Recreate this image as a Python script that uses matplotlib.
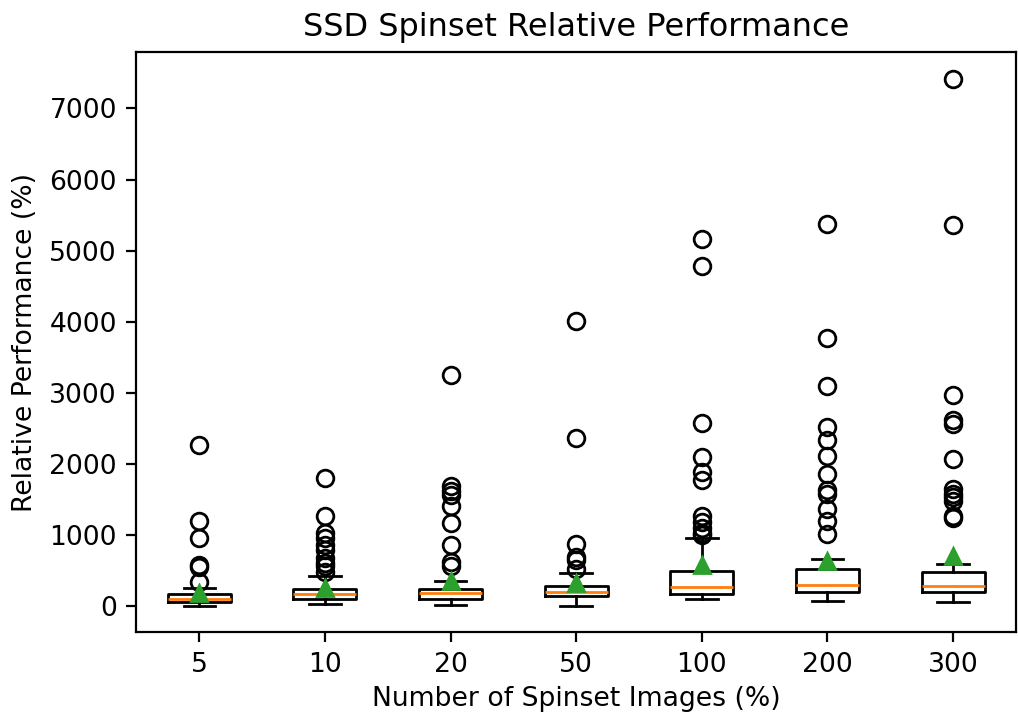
import matplotlib
matplotlib.use("Agg")
import matplotlib.pyplot as plt

# box statistics
labels  = ["5", "10", "20", "50", "100", "200", "300"]
q1      = [60, 98, 98, 141, 169, 192, 202]
med     = [103, 169, 178, 202, 272, 295, 281]
q3      = [169, 239, 239, 286, 497, 520, 474]
whislo  = [4, 28, 14, 0, 98, 70, 52]
whishi  = [249, 422, 352, 459, 961, 661, 586]
means   = [175, 250, 350, 315, 575, 630, 703]
fliers  = [
    [338, 540, 580, 950, 1190, 2260],
    [470, 560, 610, 680, 780, 860, 950, 1030, 1260, 1800],
    [560, 620, 850, 1170, 1400, 1560, 1620, 1680, 3250],
    [520, 640, 690, 870, 2360, 4010],
    [1000, 1030, 1090, 1180, 1260, 1770, 1890, 2090, 2570, 4780, 5160],
    [1010, 1200, 1360, 1580, 1630, 1860, 2110, 2330, 2520, 3090, 3770, 5370],
    [1230, 1270, 1470, 1530, 1580, 1650, 2070, 2560, 2620, 2970, 5360, 7420],
]

plt.rcParams["font.size"] = 9.6
plt.rcParams["axes.titlesize"] = 11.5

stats = []
for i, lab in enumerate(labels):
    stats.append(dict(label=lab, q1=q1[i], med=med[i], q3=q3[i],
                      whislo=whislo[i], whishi=whishi[i],
                      mean=means[i], fliers=fliers[i]))

fig = plt.figure(figsize=(5.09, 3.58), dpi=200)
ax = fig.add_axes([0.134, 0.117, 0.864, 0.810])
ax.bxp(stats, showmeans=True)
ax.set_title("SSD Spinset Relative Performance")
ax.set_xlabel("Number of Spinset Images (%)", labelpad=3)
ax.set_ylabel("Relative Performance (%)")

fig.savefig("out.png", dpi=200)
